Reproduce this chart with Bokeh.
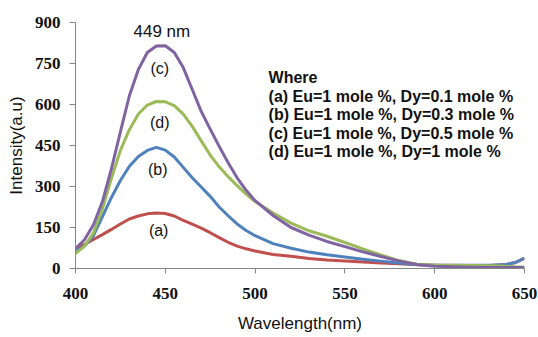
from bokeh.plotting import figure
from bokeh.models import Label, FixedTicker, ColumnDataSource, Range1d
from bokeh.embed import file_html
from bokeh.resources import INLINE

wavelength = [400, 405, 410, 415, 420, 425, 430, 435, 440, 445, 450, 455, 460, 465,
              470, 475, 480, 485, 490, 495, 500, 510, 520, 530, 540, 550, 560, 570,
              580, 590, 600, 610, 620, 630, 640, 645, 650]
# (a) Eu=1, Dy=0.1
intensity_a = [73, 88, 106, 124, 143, 163, 181, 192, 200, 203, 201, 192, 176, 162,
               148, 131, 113, 96, 82, 72, 64, 51, 45, 37, 31, 27, 24, 20,
               17, 14, 12, 10, 10, 10, 15, 22, 37]
# (b) Eu=1, Dy=0.3
intensity_b = [61, 82, 120, 190, 260, 322, 374, 410, 432, 443, 433, 408, 370, 332,
               298, 264, 225, 193, 163, 139, 120, 91, 74, 60, 50, 42, 34, 27,
               20, 15, 12, 12, 12, 12, 15, 22, 38]
# (c) Eu=1, Dy=0.5
intensity_c = [73, 105, 160, 245, 365, 500, 632, 728, 790, 814, 815, 790, 735, 655,
               575, 510, 447, 387, 332, 286, 248, 194, 150, 122, 99, 80, 61, 44,
               28, 15, 8, 6, 5, 4, 4, 4, 4]
# (d) Eu=1, Dy=1
intensity_d = [55, 82, 130, 218, 330, 432, 508, 565, 598, 611, 610, 596, 565, 520,
               467, 415, 372, 336, 303, 272, 245, 203, 166, 138, 118, 95, 72, 50,
               29, 16, 12, 12, 11, 10, 8, 6, 5]

x_ticks = [400, 450, 500, 550, 600, 650]
y_ticks = [0, 150, 300, 450, 600, 750, 900]

legend_lines = ["Where",
                "(a) Eu=1 mole %, Dy=0.1 mole %",
                "(b) Eu=1 mole %, Dy=0.3 mole %",
                "(c) Eu=1 mole %, Dy=0.5 mole %",
                "(d) Eu=1 mole %, Dy=1 mole %"]
legend_y = [700, 630, 562, 495, 428]
legend_x = 507.5

curve_labels = ["(a)", "(b)", "(c)", "(d)"]
curve_label_x = [446.3, 445.8, 446.9, 446.9]
curve_label_y = [140, 362, 733, 535]

colors = {"a": "#C0504D", "b": "#4F81BD", "c": "#8064A2", "d": "#9BBB59"}

p = figure(width=538, height=337, output_backend="svg", toolbar_location=None,
           x_range=Range1d(400, 650), y_range=Range1d(0, 900),
           min_border_left=75, min_border_right=14, min_border_top=22,
           min_border_bottom=69)
p.background_fill_color = "white"
p.border_fill_color = "white"
p.outline_line_color = None
p.grid.visible = False

src = ColumnDataSource(dict(x=wavelength, a=intensity_a, b=intensity_b,
                            c=intensity_c, d=intensity_d))
for key in ["a", "b", "d", "c"]:
    p.line("x", key, source=src, line_color=colors[key], line_width=3,
           line_join="round")

for ax in (p.xaxis[0], p.yaxis[0]):
    ax.axis_line_color = "#868686"
    ax.major_tick_line_color = "#868686"
    ax.minor_tick_line_color = None
    ax.major_tick_in = 0
    ax.major_label_text_font = "Liberation Serif"
    ax.major_label_text_font_style = "bold"
    ax.major_label_text_font_size = "17px"
    ax.major_label_text_color = "#111111"
    ax.axis_label_text_font = "Liberation Sans"
    ax.axis_label_text_font_style = "normal"
    ax.axis_label_text_font_size = "17px"
    ax.axis_label_text_color = "#111111"

p.xaxis.ticker = FixedTicker(ticks=x_ticks)
p.yaxis.ticker = FixedTicker(ticks=y_ticks)
p.xaxis.major_tick_out = 5
p.yaxis.major_tick_out = 6
p.xaxis.major_label_standoff = 14
p.yaxis.major_label_standoff = 9
p.xaxis.axis_label = "Wavelength(nm)"
p.yaxis.axis_label = "Intensity(a.u)"
p.xaxis.axis_label_standoff = 12
p.yaxis.axis_label_standoff = 6

p.add_layout(Label(x=448.1, y=866, text="449 nm", text_align="center",
                   text_baseline="middle", text_font="Liberation Sans",
                   text_font_size="17px", text_color="#111111"))

for t, lx, ly in zip(curve_labels, curve_label_x, curve_label_y):
    p.add_layout(Label(x=lx, y=ly, text=t, text_align="center",
                       text_baseline="middle", text_font="Liberation Sans",
                       text_font_size="16px", text_color="#111111"))

for t, ly in zip(legend_lines, legend_y):
    p.add_layout(Label(x=legend_x, y=ly, text=t, text_align="left",
                       text_baseline="middle", text_font="Liberation Sans",
                       text_font_style="bold", text_font_size="16px",
                       text_color="#111111"))

open("out.html", "w").write(file_html(p, INLINE))
